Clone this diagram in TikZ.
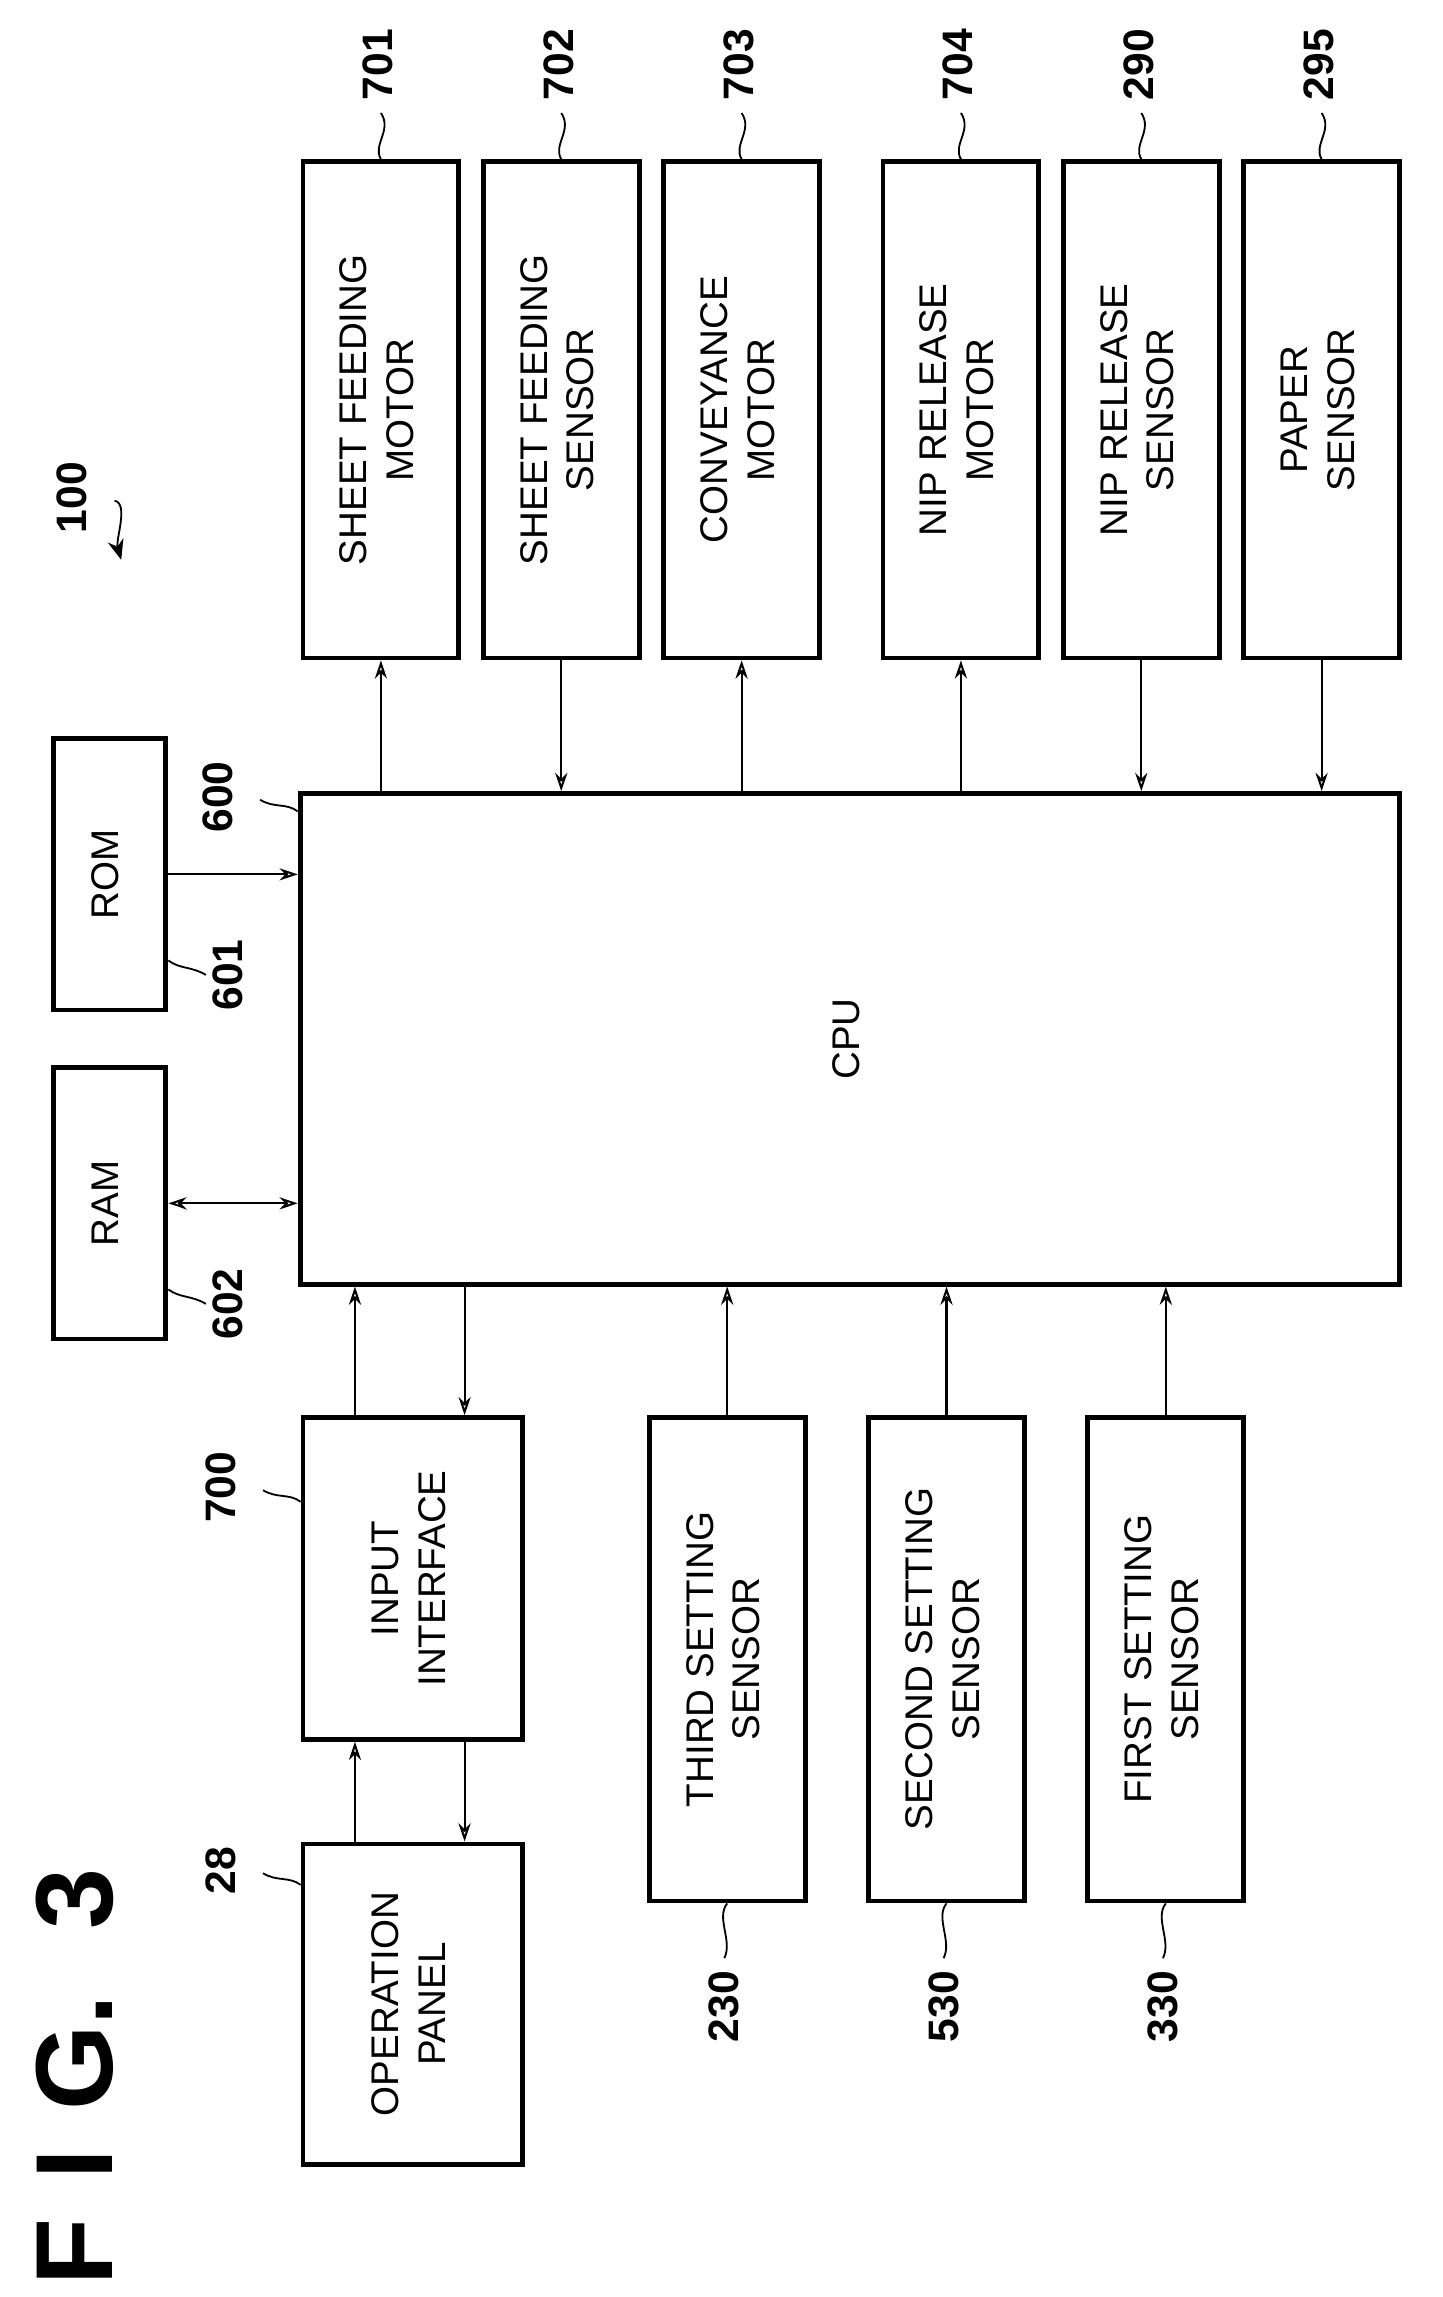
\documentclass[tikz,border=0pt]{standalone}
\usepackage{fontspec}
\setmainfont{Liberation Sans}
\usepackage{tikz}
\usetikzlibrary{arrows.meta,calc,positioning}

\tikzset{
    blk/.style={draw, line width=2.4pt, inner sep=0pt, font=\fontsize{19}{23}\selectfont},
    arr/.style={line width=1pt, -{Stealth[length=9pt,width=6pt,open]}},
    dbl/.style={line width=1pt, {Stealth[length=9pt,width=6pt,open]}-{Stealth[length=9pt,width=6pt,open]}},
    num/.style={font=\fontsize{21}{24}\bfseries, rotate=90},
    lead/.style={line width=0.9pt}
}
\newcommand{\vtext}[1]{\rotatebox{90}{\begin{tabular}{c}#1\end{tabular}}}

\begin{document}
\begin{tikzpicture}[x=0.025cm, y=-0.025cm]
    \useasboundingbox (0,0) rectangle (1000,1592);
    % CPU and memories
    \node[blk, minimum width=762*0.025cm, minimum height=340*0.025cm] (cpu) at (589,720) {\vtext{CPU}};
    \node[blk, minimum width=78*0.025cm, minimum height=188*0.025cm] (rom) at (76,606) {\vtext{ROM}};
    \node[blk, minimum width=78*0.025cm, minimum height=188*0.025cm] (ram) at (76,834) {\vtext{RAM}};
    % upper row
    \node[blk, minimum width=108*0.025cm, minimum height=344*0.025cm] (sfm) at (264,284) {\vtext{SHEET FEEDING\\MOTOR}};
    \node[blk, minimum width=108*0.025cm, minimum height=344*0.025cm] (sfs) at (389,284) {\vtext{SHEET FEEDING\\SENSOR}};
    \node[blk, minimum width=108*0.025cm, minimum height=344*0.025cm] (cvm) at (514,284) {\vtext{CONVEYANCE\\MOTOR}};
    \node[blk, minimum width=108*0.025cm, minimum height=344*0.025cm] (nrm) at (666,284) {\vtext{NIP RELEASE\\MOTOR}};
    \node[blk, minimum width=108*0.025cm, minimum height=344*0.025cm] (nrs) at (791,284) {\vtext{NIP RELEASE\\SENSOR}};
    \node[blk, minimum width=108*0.025cm, minimum height=344*0.025cm] (pps) at (916,284) {\vtext{PAPER\\SENSOR}};
    % lower row
    \node[blk, minimum width=152*0.025cm, minimum height=223*0.025cm] (iif) at (286,1094) {\vtext{INPUT\\INTERFACE}};
    \node[blk, minimum width=152*0.025cm, minimum height=222*0.025cm] (opp) at (286,1389) {\vtext{OPERATION\\PANEL}};
    \node[blk, minimum width=108*0.025cm, minimum height=335*0.025cm] (tss) at (504,1150) {\vtext{THIRD SETTING\\SENSOR}};
    \node[blk, minimum width=108*0.025cm, minimum height=335*0.025cm] (sss) at (656,1150) {\vtext{SECOND SETTING\\SENSOR}};
    \node[blk, minimum width=108*0.025cm, minimum height=335*0.025cm] (fss) at (808,1150) {\vtext{FIRST SETTING\\SENSOR}};

    % connectors
    \draw[arr] (sfm.south |- cpu.north) -- (sfm.south);
    \draw[arr] (sfs.south) -- (sfs.south |- cpu.north);
    \draw[arr] (cvm.south |- cpu.north) -- (cvm.south);
    \draw[arr] (nrm.south |- cpu.north) -- (nrm.south);
    \draw[arr] (nrs.south) -- (nrs.south |- cpu.north);
    \draw[arr] (pps.south) -- (pps.south |- cpu.north);
    \draw[arr] (rom.east) -- (rom.east -| cpu.west);
    \draw[dbl] (ram.east) -- (ram.east -| cpu.west);
    \draw[arr] ($(iif.north)+(-40,0)$) -- ($(iif.north |- cpu.south)+(-40,0)$);
    \draw[arr] ($(iif.north |- cpu.south)+(36,0)$) -- ($(iif.north)+(36,0)$);
    \draw[arr] ($(opp.north)+(-40,0)$) -- ($(iif.south)+(-40,0)$);
    \draw[arr] ($(iif.south)+(36,0)$) -- ($(opp.north)+(36,0)$);
    \draw[arr] (tss.north) -- (tss.north |- cpu.south);
    \draw[arr] (sss.north) -- (sss.north |- cpu.south);
    \draw[arr] (fss.north) -- (fss.north |- cpu.south);

    % reference numerals
    \foreach \b/\t in {sfm/701, sfs/702, cvm/703, nrm/704, nrs/290, pps/295} {
        \draw[lead] (\b.north) .. controls ++(-6,-10) and ++(8,12) .. ++(0,-32) coordinate (\b-l);
        \node[num, above right=-4 and -2 of \b-l, anchor=west] {\t};
    }
    \foreach \b/\t in {tss/230, sss/530, fss/330} {
        \draw[lead] (\b.south) .. controls ++(-8,10) and ++(6,-12) .. ++(-2,38) coordinate (\b-l);
        \node[num, anchor=east] at ($(\b-l)+(0,4)$) {\t};
    }
    \draw[lead] (cpu.north west) ++(0,14) .. controls ++(-8,-6) and ++(10,6) .. ++(-26,-8) coordinate (cpu-l);
    \node[num, anchor=south] at ($(cpu-l)+(-14,-2)$) {600};
    \draw[lead] ($(rom.south east)+(0,-36)$) .. controls ++(8,6) and ++(-10,-6) .. ++(26,10) coordinate (rom-l);
    \node[num, anchor=north] at ($(rom-l)+(0,0)$) {601};
    \draw[lead] ($(ram.south east)+(0,-36)$) .. controls ++(8,6) and ++(-10,-6) .. ++(26,10) coordinate (ram-l);
    \node[num, anchor=north] at ($(ram-l)+(0,0)$) {602};
    \draw[lead] ($(iif.north west)+(0,60)$) .. controls ++(-8,-6) and ++(10,6) .. ++(-26,-8) coordinate (iif-l);
    \node[num, anchor=south] at ($(iif-l)+(-14,-2)$) {700};
    \draw[lead] ($(opp.north west)+(0,30)$) .. controls ++(-8,-6) and ++(10,6) .. ++(-26,-8) coordinate (opp-l);
    \node[num, anchor=south] at ($(opp-l)+(-14,-2)$) {28};
    % apparatus
    \node[num] (app) at (50,345) {100};
    \coordinate (app-t) at (84,388);
    \draw[lead, -{Stealth[length=10pt,width=8pt]}] ($(app.south)+(14,2)$) .. controls ++(10,2) and ++(-4,-14) .. (app-t);
    % figure title
    \node[font=\fontsize{54}{60}\bfseries, rotate=90, anchor=west, inner sep=0pt] (fig) at (52,1584) {F\hspace{0.35em}I\hspace{0.35em}G.\hspace{0.6em}3};
\end{tikzpicture}
\end{document}
